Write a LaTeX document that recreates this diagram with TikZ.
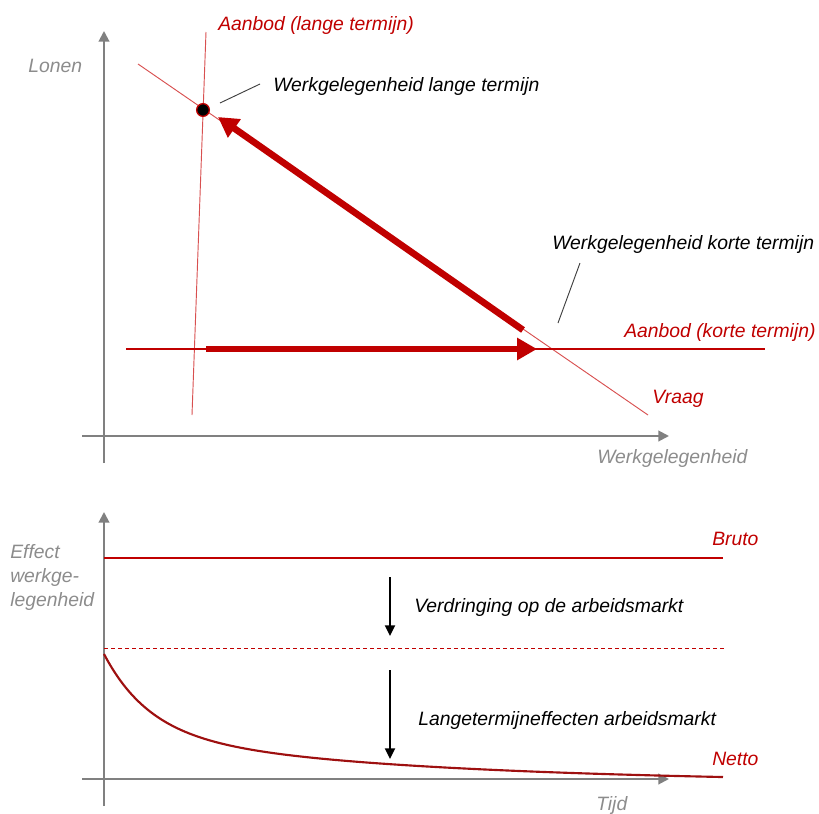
\documentclass[tikz,border=0pt]{standalone}
\usepackage{fontspec}
\setmainfont{Liberation Sans}
\usetikzlibrary{arrows.meta}
\definecolor{dred}{HTML}{C00000}
\definecolor{lred}{HTML}{D85050}
\definecolor{axgray}{HTML}{808080}
\definecolor{txgray}{HTML}{8C8C8C}
\definecolor{curvered}{HTML}{9E1010}
\definecolor{leader}{HTML}{404040}
\begin{document}
\begin{tikzpicture}[x=0.75pt,y=-0.75pt,
  lbl/.style={font=\fontsize{14.5}{17}\selectfont\itshape, inner sep=0pt, anchor=base west},
  redlbl/.style={lbl, text=dred},
  graylbl/.style={lbl, text=txgray},
  blacklbl/.style={lbl, text=black},
  axisline/.style={draw=axgray, line width=1.5pt, -{Triangle[length=8pt,width=8pt]}},
  thinred/.style={draw=lred, line width=0.7pt},
  supplyline/.style={draw=dred, line width=0.8pt},
  leaderline/.style={draw=leader, line width=0.7pt},
  bigarrow/.style={draw=dred, line width=5pt, -{Triangle[length=15pt,width=16pt]}},
  downarrow/.style={draw=black, line width=1.5pt, -{Triangle[length=8pt,width=7.5pt]}},
  dashline/.style={draw=dred, line width=0.75pt, dash pattern=on 3pt off 2.25pt},
  brutoline/.style={draw=dred, line width=0.9pt},
  curveline/.style={draw=curvered, line width=1.6pt}
]
\useasboundingbox (0,0) rectangle (819,814);

% ---------- top chart ----------
\coordinate (tyb) at (104,463);
\coordinate (tyt) at (104,31);
\coordinate (txl) at (82,436);
\coordinate (txr) at (669,436);
\draw[axisline] (tyb) -- (tyt);
\draw[axisline] (txl) -- (txr);

% demand line
\coordinate (vr0) at (138,64);
\coordinate (vr1) at (648,415);
\draw[thinred] (vr0) -- (vr1);

% long-term supply
\coordinate (al0) at (206,32);
\coordinate (al1) at (192,415);
\draw[thinred] (al0) -- (al1);

% short-term supply
\coordinate (ak0) at (126,349);
\coordinate (ak1) at (765,349);
\draw[supplyline] (ak0) -- (ak1);

% arrows
\coordinate (ha0) at (206,349);
\coordinate (ha1) at (537,349);
\draw[bigarrow] (ha0) -- (ha1);
\coordinate (da0) at (523,330);
\coordinate (da1) at (218,117);
\draw[bigarrow] (da0) -- (da1);

% equilibrium dot
\node[circle, fill=black, draw=dred, line width=1pt, minimum size=9.5pt, inner sep=0pt] (eq) at (203,110) {};

% leaders
\coordinate (ll0) at (220,103);
\coordinate (ll1) at (260,84);
\draw[leaderline] (ll0) -- (ll1);
\coordinate (lk0) at (558,323);
\coordinate (lk1) at (580,263);
\draw[leaderline] (lk0) -- (lk1);

% labels
\node[redlbl] (tAanbodL) at (218,30) {Aanbod (lange termijn)};
\node[graylbl] (tLonen) at (28,72) {Lonen};
\node[blacklbl] (tWlang) at (273,91) {Werkgelegenheid lange termijn};
\node[blacklbl] (tWkort) at (552,249) {Werkgelegenheid korte termijn};
\node[redlbl] (tAanbodK) at (624,337) {Aanbod (korte termijn)};
\node[redlbl] (tVraag) at (652,403) {Vraag};
\node[graylbl] (tWerk) at (597,463) {Werkgelegenheid};

% ---------- bottom chart ----------
\coordinate (byb) at (104,806);
\coordinate (byt) at (104,512);
\coordinate (bxl) at (82,779);
\coordinate (bxr) at (669,779);
\draw[axisline] (byb) -- (byt);
\draw[axisline] (bxl) -- (bxr);

\coordinate (br0) at (104,558);
\coordinate (br1) at (723,558);
\draw[brutoline] (br0) -- (br1);

\coordinate (dl0) at (104,648);
\coordinate (dl1) at (725,648);
\draw[dashline] (dl0) -- (dl1);

\draw[curveline] plot[domain=0:619, samples=160, smooth]
  ({104+\x}, {779 - 125*(0.62*exp(-\x/45)+0.38*exp(-\x/260)) + 0.0039*\x});

\coordinate (d1a) at (390,577);
\coordinate (d1b) at (390,636);
\draw[downarrow] (d1a) -- (d1b);
\coordinate (d2a) at (390,670);
\coordinate (d2b) at (390,759);
\draw[downarrow] (d2a) -- (d2b);

\node[redlbl] (tBruto) at (712,545) {Bruto};
\node[graylbl] (tEff1) at (10,558) {Effect};
\node[graylbl] (tEff2) at (10,582) {werkge-};
\node[graylbl] (tEff3) at (10,606) {legenheid};
\node[blacklbl] (tVerdr) at (414,612) {Verdringing op de arbeidsmarkt};
\node[blacklbl] (tLange) at (418,725) {Langetermijneffecten arbeidsmarkt};
\node[redlbl] (tNetto) at (712,765) {Netto};
\node[graylbl] (tTijd) at (596,810) {Tijd};
\end{tikzpicture}
\end{document}
